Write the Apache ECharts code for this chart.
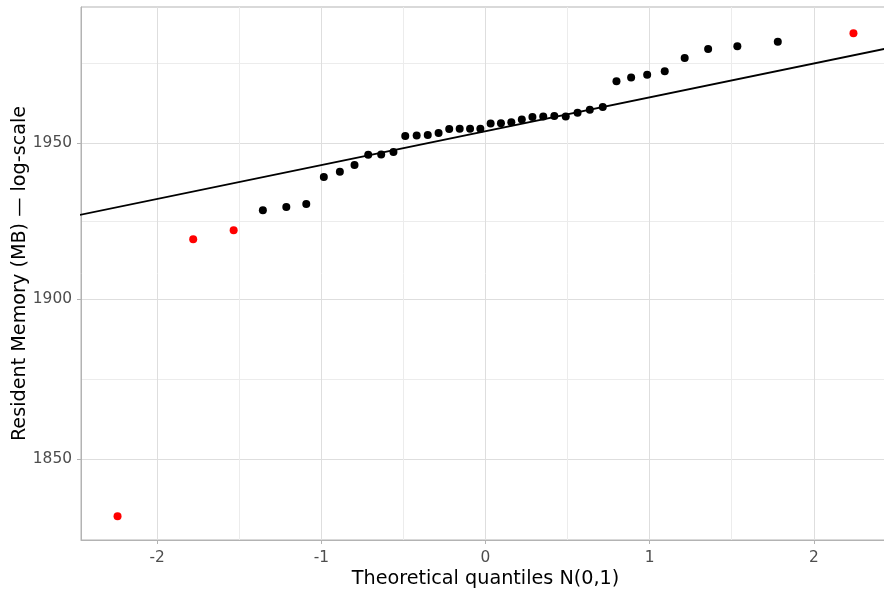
<!DOCTYPE html>
<html><head><meta charset="utf-8">
<script src="https://cdn.jsdelivr.net/npm/echarts@6/dist/echarts.min.js"></script>
<style>html,body{margin:0;padding:0;background:#fff}#c{width:884px;height:590px}</style>
</head><body><div id="c"></div>
<script>
// Theoretical normal quantiles (n = 40)
const theoreticalQuantiles = [
  -2.2414, -1.7805, -1.5341, -1.3562, -1.2133, -1.0918, -0.9848, -0.8871, -0.7978, -0.7144,
  -0.6354, -0.5607, -0.4888, -0.4193, -0.3518, -0.2858, -0.2211, -0.1573, -0.0941, -0.0313,
   0.0313,  0.0941,  0.1573,  0.2211,  0.2858,  0.3518,  0.4193,  0.4888,  0.5607,  0.6354,
   0.7144,  0.7978,  0.8871,  0.9848,  1.0918,  1.2133,  1.3562,  1.5341,  1.7805,  2.2414
];
// Sorted resident memory samples (MB)
const residentMemoryMB = [
  1832.5, 1919.0, 1921.9, 1928.3, 1929.4, 1930.3, 1939.0, 1940.7, 1942.9, 1946.2,
  1946.3, 1947.1, 1952.3, 1952.5, 1952.6, 1953.3, 1954.6, 1954.7, 1954.7, 1954.7,
  1956.4, 1956.5, 1956.8, 1957.7, 1958.5, 1958.7, 1958.8, 1958.7, 1959.9, 1960.9,
  1961.8, 1970.2, 1971.4, 1972.3, 1973.5, 1977.8, 1980.8, 1981.7, 1983.2, 1986.0
];
// 1 = flagged outlier (drawn red)
const outlierFlags = [
  1,1,1,0,0,0,0,0,0,0, 0,0,0,0,0,0,0,0,0,0,
  0,0,0,0,0,0,0,0,0,0, 0,0,0,0,0,0,0,0,0,1
];
// Reference (qq) line end points
const refLineQ = [-2.5, 2.5];
const refLineMB = [1926.5, 1981.6];
// Axis breaks
const xTicks = [-2, -1, 0, 1, 2];
const xMinorTicks = [-1.5, -0.5, 0.5, 1.5];
const yTicks = [1850, 1900, 1950];
const yMinorTicks = [1874.8, 1924.8, 1976.2];
const xRange = [-2.464, 2.464];
const yRange = [1825.3, 1994.7];

const normalPts = [], outlierPts = [];
theoreticalQuantiles.forEach((q, i) => {
  (outlierFlags[i] ? outlierPts : normalPts).push([q, residentMemoryMB[i]]);
});
const refLine = refLineQ.map((q, i) => [q, refLineMB[i]]);

const FONT = 'DejaVu Sans';
const chart = echarts.init(document.getElementById('c'), null, {renderer: 'canvas'});
chart.setOption({
  animation: false,
  backgroundColor: '#ffffff',
  grid: {left: 81, right: -6, top: 7, bottom: 50, show: true, borderColor: '#b3b3b3', borderWidth: 1,
         backgroundColor: 'transparent', containLabel: false, outerBoundsMode: 'none'},
  xAxis: [{
    type: 'value', min: xRange[0], max: xRange[1], position: 'bottom',
    name: 'Theoretical quantiles N(0,1)', nameLocation: 'middle', nameGap: 30, nameMoveOverlap: false,
    nameTextStyle: {fontFamily: FONT, fontSize: 19.2, color: '#000'},
    axisLine: {show: true, onZero: false, lineStyle: {color: '#b3b3b3', width: 1}},
    axisTick: {show: true, length: 4, customValues: xTicks, lineStyle: {color: '#b3b3b3', width: 1}},
    axisLabel: {customValues: xTicks, fontFamily: FONT, fontSize: 15.4, color: '#4d4d4d', margin: 10, formatter: v => String(v)},
    splitLine: {show: true, lineStyle: {color: '#dedede', width: 1}}
  }, {
    type: 'value', min: xRange[0], max: xRange[1], position: 'bottom',
    axisLine: {show: false, onZero: false}, axisLabel: {show: false},
    axisTick: {show: false, customValues: xMinorTicks},
    splitLine: {show: true, lineStyle: {color: '#ececec', width: 1}}
  }],
  yAxis: [{
    type: 'log', logBase: 10, min: yRange[0], max: yRange[1], position: 'left',
    name: 'Resident Memory (MB) \u2014 log-scale', nameLocation: 'middle', nameGap: 51, nameMoveOverlap: false,
    nameTextStyle: {fontFamily: FONT, fontSize: 19.2, color: '#000'},
    axisLine: {show: true, onZero: false, lineStyle: {color: '#b3b3b3', width: 1}},
    axisTick: {show: true, length: 4, customValues: yTicks, lineStyle: {color: '#b3b3b3', width: 1}},
    axisLabel: {customValues: yTicks, fontFamily: FONT, fontSize: 15.4, color: '#4d4d4d', margin: 9, formatter: v => String(Math.round(v))},
    splitLine: {show: true, lineStyle: {color: '#dedede', width: 1}}
  }, {
    type: 'log', logBase: 10, min: yRange[0], max: yRange[1], position: 'left',
    axisLine: {show: false, onZero: false}, axisLabel: {show: false},
    axisTick: {show: false, customValues: yMinorTicks},
    splitLine: {show: true, lineStyle: {color: '#ececec', width: 1}}
  }],
  series: [{
    type: 'line', data: refLine, xAxisIndex: 0, yAxisIndex: 0,
    showSymbol: false, symbol: 'none', clip: true,
    lineStyle: {color: '#000', width: 1.8}, z: 2, silent: true
  }, {
    type: 'scatter', data: normalPts, xAxisIndex: 0, yAxisIndex: 0,
    symbol: 'circle', symbolSize: 8, itemStyle: {color: '#000', opacity: 1}, z: 3
  }, {
    type: 'scatter', data: outlierPts, xAxisIndex: 0, yAxisIndex: 0,
    symbol: 'circle', symbolSize: 8, itemStyle: {color: '#ff0000', opacity: 1}, z: 3
  }]
});
</script></body></html>
